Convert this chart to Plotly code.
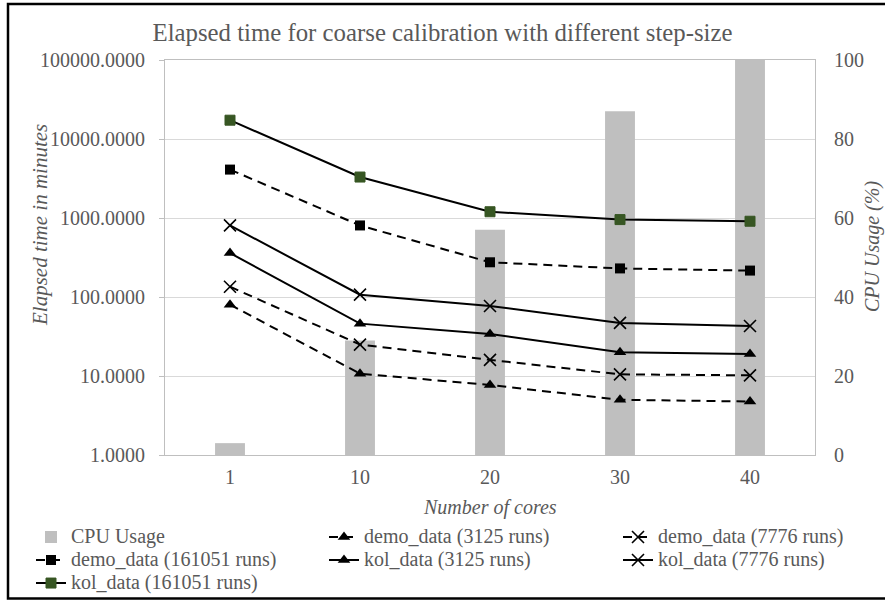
import plotly.graph_objects as go

cores = ["1", "10", "20", "30", "40"]
cpu_usage = [3, 29, 57, 87, 100]
demo_3125 = [80, 10.7, 7.7, 5.0, 4.75]
demo_7776 = [135, 25, 16, 10.5, 10.2]
demo_161051 = [4100, 805, 275, 230, 216]
kol_3125 = [360, 46, 34, 20, 19]
kol_7776 = [805, 107, 77, 47, 43]
kol_161051 = [17300, 3300, 1200, 955, 910]

W, H = 885, 600
L, R, T, B = 165, 70, 60, 145
FONT = "Liberation Serif"
GREY = "#595959"
LEG_TXT = '<span style="font-size:20px">{}</span>'

fig = go.Figure()
fig.add_trace(go.Bar(x=cores, y=cpu_usage, name=LEG_TXT.format("CPU Usage"),
                     marker_color="#bfbfbf", marker_line_width=0, width=0.23,
                     yaxis="y", legend="legend"))

def line(name, y, symbol, dash, legend, color="black", size=10, lw=0):
    mk = dict(symbol=symbol, size=size, color=color)
    if symbol.startswith("x"):
        mk["line"] = dict(color=color, width=1.6)
    else:
        mk["line"] = dict(color=color, width=lw)
    fig.add_trace(go.Scatter(x=cores, y=y, name=LEG_TXT.format(name), mode="lines+markers",
                             line=dict(color="black", width=2, dash=dash),
                             marker=mk, yaxis="y2", legend=legend))

DASH = "9px,6px"
line("demo_data (3125 runs)", demo_3125, "triangle-up", DASH, "legend2", size=11)
line("demo_data (7776 runs)", demo_7776, "x-thin", DASH, "legend3", size=12)
line("demo_data (161051 runs)", demo_161051, "square", DASH, "legend", size=10)
line("kol_data (3125 runs)", kol_3125, "triangle-up", "solid", "legend2", size=11)
line("kol_data (7776 runs)", kol_7776, "x-thin", "solid", "legend3", size=12)
line("kol_data (161051 runs)", kol_161051, "square", "solid", "legend", color="#375623", size=10, lw=1)

def legend_at(px):
    return dict(orientation="v", xref="container", yref="container",
                x=px / W, y=1 - 520.5 / H, xanchor="left", yanchor="top",
                font=dict(family=FONT, size=15.4, color=GREY),
                bgcolor="rgba(0,0,0,0)", traceorder="normal")

fig.update_layout(
    width=W, height=H,
    margin=dict(l=L, r=R, t=T, b=B, autoexpand=False),
    paper_bgcolor="white", plot_bgcolor="white",
    font=dict(family=FONT, size=20, color=GREY),
    title=dict(text="Elapsed time for coarse calibration with different step-size",
               x=0.5, xanchor="center", y=1 - 32 / H, yanchor="middle",
               font=dict(family=FONT, size=24.8, color=GREY)),
    xaxis=dict(type="category", showgrid=False, showline=True, linecolor="#bfbfbf",
               linewidth=1, mirror=True, ticks="", ticklabelstandoff=4,
               tickfont=dict(family=FONT, size=20, color=GREY)),
    yaxis=dict(side="right", range=[0, 100], tickvals=[0, 20, 40, 60, 80, 100],
               showgrid=True, gridcolor="#d9d9d9", gridwidth=1, zeroline=False,
               showline=True, linecolor="#bfbfbf", linewidth=1, mirror=True,
               ticks="", ticklabelstandoff=14,
               tickfont=dict(family=FONT, size=20, color=GREY)),
    yaxis2=dict(type="log", range=[0, 5], overlaying="y", side="left",
                tickvals=[1, 10, 100, 1000, 10000, 100000],
                ticktext=["1.0000", "10.0000", "100.0000", "1000.0000", "10000.0000", "100000.0000"],
                showgrid=False, zeroline=False, showline=False,
                ticks="outside", ticklen=5, tickcolor="#bfbfbf", ticklabelstandoff=10,
                tickfont=dict(family=FONT, size=20, color=GREY)),
    legend=legend_at(31),
    legend2=legend_at(324),
    legend3=legend_at(618),
    showlegend=True,
)

def px2x(px):
    return (px - L) / (W - L - R)

def px2y(py):
    return (H - B - py) / (H - T - B)

fig.add_annotation(text="<i>Elapsed time in minutes</i>", xref="paper", yref="paper",
                   x=px2x(40), y=px2y(225), textangle=-90, showarrow=False,
                   font=dict(family=FONT, size=21, color=GREY), xanchor="center", yanchor="middle")
fig.add_annotation(text="<i>CPU Usage (%)</i>", xref="paper", yref="paper",
                   x=px2x(872), y=px2y(247), textangle=-90, showarrow=False,
                   font=dict(family=FONT, size=20, color=GREY), xanchor="center", yanchor="middle")
fig.add_annotation(text="<i>Number of cores</i>", xref="paper", yref="paper",
                   x=px2x(490), y=px2y(507), showarrow=False,
                   font=dict(family=FONT, size=20, color=GREY), xanchor="center", yanchor="middle")

fig.add_shape(type="rect", xref="paper", yref="paper",
              x0=px2x(8), x1=px2x(895), y0=px2y(598.5), y1=px2y(4),
              line=dict(color="black", width=2.5), fillcolor="rgba(0,0,0,0)", layer="above")

fig.write_html("out.html")
